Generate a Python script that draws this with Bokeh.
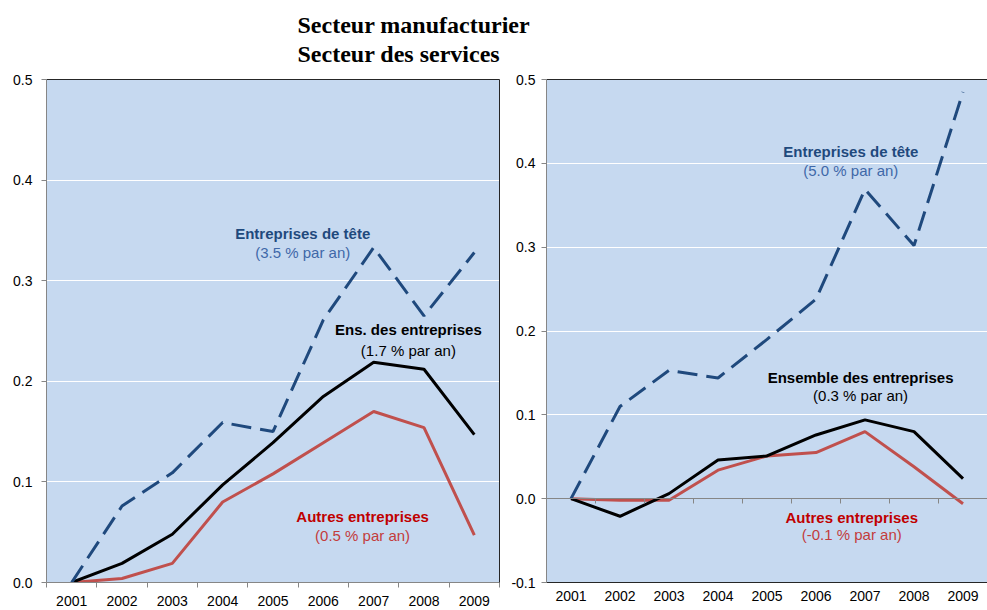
from bokeh.plotting import figure
from bokeh.models import (FactorRange, Range1d, LinearAxis, CategoricalAxis,
                          FixedTicker, PrintfTickFormatter, Label)
from bokeh.layouts import column, row
from bokeh.embed import file_html
from bokeh.resources import INLINE

# ---------------- data ----------------
years = ["2001", "2002", "2003", "2004", "2005", "2006", "2007", "2008", "2009"]

manuf_leaders = [0.0, 0.076, 0.109, 0.159, 0.150, 0.261, 0.333, 0.265, 0.328]
manuf_all = [0.0, 0.019, 0.048, 0.097, 0.139, 0.185, 0.219, 0.212, 0.147]
manuf_others = [0.0, 0.004, 0.019, 0.080, 0.108, 0.139, 0.170, 0.154, 0.047]

serv_leaders = [0.0, 0.110, 0.153, 0.144, 0.190, 0.238, 0.369, 0.302, 0.485]
serv_all = [0.0, -0.021, 0.006, 0.046, 0.051, 0.076, 0.094, 0.080, 0.024]
serv_others = [0.0, -0.002, -0.002, 0.034, 0.051, 0.055, 0.080, 0.038, -0.006]

manuf_yticks = [0.0, 0.1, 0.2, 0.3, 0.4, 0.5]
serv_yticks = [-0.1, 0.0, 0.1, 0.2, 0.3, 0.4, 0.5]

titles = ["Secteur manufacturier", "Secteur des services"]

manuf_notes = [
    ("Entreprises de tête", "(3.5 % par an)"),
    ("Ens. des entreprises", "(1.7 % par an)"),
    ("Autres entreprises", "(0.5 % par an)"),
]
serv_notes = [
    ("Entreprises de tête", "(5.0 % par an)"),
    ("Ensemble des entreprises", "(0.3 % par an)"),
    ("Autres entreprises", "(-0.1 % par an)"),
]

# ---------------- styles ----------------
BG = "#C6D9F0"
AX = "#868686"
BORDER = "#262626"
C_LEAD = "#1F497D"
C_ALL = "#000000"
C_OTH = "#C0504D"
NOTE_COLORS = [(C_LEAD, "#3F68A8"), ("#000000", "#000000"), ("#C00000", "#C33C3C")]
FONT = "Liberation Sans"

TITLE_H = 66
ROW_H = 544
BOTTOM = 28


def make_panel(leaders, allf, others, yticks, notes, note_pos, width,
               mb_left, mb_right, y_standoff, label_standoff, zero_axis, right_border):
    p = figure(x_range=FactorRange(*years), y_range=Range1d(yticks[0], yticks[-1]),
               width=width, height=ROW_H, output_backend="svg", toolbar_location=None,
               x_axis_location=None, y_axis_location=None,
               min_border_left=mb_left, min_border_right=mb_right,
               min_border_top=13, min_border_bottom=BOTTOM,
               background_fill_color=BG, border_fill_color="white",
               outline_line_color=None)
    p.xgrid.visible = False
    p.ygrid.ticker = FixedTicker(ticks=yticks)
    p.ygrid.grid_line_color = "white"
    p.ygrid.grid_line_width = 1

    yaxis = LinearAxis(ticker=FixedTicker(ticks=yticks),
                       formatter=PrintfTickFormatter(format="%.1f"),
                       axis_line_color=AX, major_tick_line_color=AX,
                       major_tick_out=5, major_tick_in=0, minor_tick_line_color=None,
                       major_label_text_font=FONT, major_label_text_font_size="14px",
                       major_label_text_color="black", major_label_standoff=y_standoff)
    p.add_layout(yaxis, "left")

    bounds = list(range(len(years) + 1))
    tick_axis = LinearAxis(ticker=FixedTicker(ticks=bounds),
                           axis_line_color=AX, major_tick_line_color=AX,
                           major_tick_out=5, major_tick_in=0, minor_tick_line_color=None,
                           major_label_text_font_size="0px", major_label_text_alpha=0,
                           major_label_standoff=0)
    lab_axis = CategoricalAxis(major_tick_line_color=None, major_tick_out=0, major_tick_in=0,
                               major_label_text_font=FONT, major_label_text_font_size="14px",
                               major_label_text_color="black",
                               major_label_standoff=label_standoff)
    if zero_axis:
        lab_axis.axis_line_color = BORDER
        p.add_layout(lab_axis, "below")
        tick_axis.fixed_location = 0
        p.add_layout(tick_axis, "below")
    else:
        lab_axis.axis_line_color = None
        p.add_layout(tick_axis, "below")
        p.add_layout(lab_axis, "below")

    top = LinearAxis(ticker=FixedTicker(ticks=[]), axis_line_color=BORDER,
                     major_tick_line_color=None, minor_tick_line_color=None,
                     major_label_text_font_size="0px")
    p.add_layout(top, "above")
    if right_border:
        rb = LinearAxis(ticker=FixedTicker(ticks=[]), axis_line_color=BORDER,
                        major_tick_line_color=None, minor_tick_line_color=None,
                        major_label_text_font_size="0px")
        p.add_layout(rb, "right")

    p.line(years, others, line_color=C_OTH, line_width=3)
    p.line(years, allf, line_color=C_ALL, line_width=3)
    p.line(years, leaders, line_color=C_LEAD, line_width=3, line_dash="20 9")

    for (bold, sub), (cx, cy1, cy2), (c1, c2) in zip(notes, note_pos, NOTE_COLORS):
        p.add_layout(Label(x=cx, y=cy1, text=bold, text_font=FONT, text_font_style="bold",
                           text_font_size="15px", text_color=c1,
                           text_align="center", text_baseline="middle"))
        p.add_layout(Label(x=cx, y=cy2, text=sub, text_font=FONT,
                           text_font_size="15px", text_color=c2,
                           text_align="center", text_baseline="middle"))
    return p


# annotation positions (synthetic x in category units, y in data units)
manuf_note_pos = [(5.09, 0.347, 0.328), (7.19, 0.251, 0.231), (6.28, 0.066, 0.047)]
serv_note_pos = [(6.21, 0.414, 0.391), (6.41, 0.145, 0.123), (6.23, -0.022, -0.043)]

left = make_panel(manuf_leaders, manuf_all, manuf_others, manuf_yticks, manuf_notes,
                  manuf_note_pos, width=503, mb_left=46, mb_right=4, y_standoff=9,
                  label_standoff=8, zero_axis=False, right_border=True)
right = make_panel(serv_leaders, serv_all, serv_others, serv_yticks, serv_notes,
                   serv_note_pos, width=484, mb_left=43, mb_right=0, y_standoff=6,
                   label_standoff=8, zero_axis=True, right_border=False)

# title strip
t = figure(width=987, height=TITLE_H, x_range=Range1d(0, 1), y_range=Range1d(0, 1),
           output_backend="svg", toolbar_location=None,
           x_axis_location=None, y_axis_location=None,
           min_border=0, min_border_left=0, min_border_right=0,
           min_border_top=0, min_border_bottom=0,
           outline_line_color=None, background_fill_color="white",
           border_fill_color="white")
t.xgrid.visible = False
t.ygrid.visible = False
for txt, yy in zip(titles, [0.636, 0.19]):
    t.add_layout(Label(x=297 / 987, y=yy, text=txt, text_font="Liberation Serif",
                       text_font_style="bold", text_font_size="24px", text_color="black",
                       text_align="left", text_baseline="middle"))

layout = column(t, row(left, right))
open("out.html", "w").write(file_html(layout, INLINE))
